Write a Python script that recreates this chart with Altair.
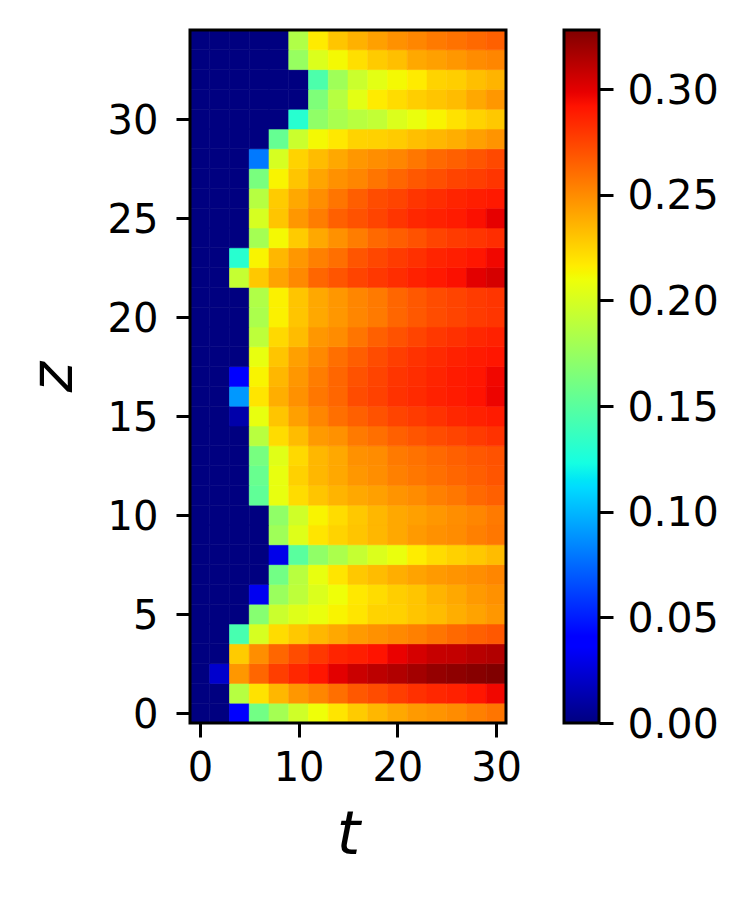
import altair as alt
import numpy as np
import pandas as pd

times = list(range(0, 31, 2))
VMAX = 0.328

z34 = [0,0,0,0,0,.185,.217,.230,.237,.243,.248,.252,.256,.259,.262,.265]
z33 = [0,0,0,0,0,.175,.202,.212,.221,.228,.232,.240,.243,.246,.250,.252]
z32 = [0,0,0,0,0,0,.145,.178,.195,.205,.212,.217,.225,.227,.232,.236]
z31 = [0,0,0,0,0,0,.165,.187,.205,.217,.222,.227,.230,.233,.240,.246]
z30 = [0,0,0,0,0,.130,.172,.182,.188,.192,.202,.208,.214,.220,.225,.229]
z29 = [0,0,0,0,.155,.195,.212,.218,.225,.226,.228,.232,.235,.238,.243,.247]
z28 = [0,0,0,.080,.200,.225,.233,.240,.246,.249,.252,.257,.262,.265,.269,.273]
z27 = [0,0,0,.163,.214,.230,.241,.248,.252,.258,.263,.268,.271,.275,.277,.280]
z26 = [0,0,0,.187,.228,.240,.249,.258,.266,.272,.275,.280,.283,.286,.288,.290]
z25 = [0,0,0,.200,.230,.246,.255,.265,.270,.275,.280,.285,.287,.289,.293,.299]
z24 = [0,0,0,.180,.212,.228,.240,.248,.255,.262,.266,.270,.275,.278,.280,.283]
z23 = [0,0,.130,.214,.235,.246,.254,.260,.269,.274,.278,.282,.286,.288,.291,.296]
z22 = [0,0,.193,.229,.242,.251,.263,.269,.275,.279,.283,.287,.290,.293,.300,.304]
z21 = [0,0,0,.185,.215,.230,.240,.246,.252,.256,.263,.268,.272,.275,.278,.280]
z20 = [0,0,0,.183,.215,.230,.240,.246,.252,.256,.263,.268,.272,.275,.278,.280]
z19 = [0,0,0,.190,.223,.233,.246,.250,.258,.265,.270,.275,.279,.282,.285,.287]
z18 = [0,0,0,.207,.230,.243,.251,.260,.266,.272,.277,.281,.284,.287,.289,.291]
z17 = [0,0,.037,.214,.235,.246,.255,.263,.270,.275,.280,.283,.286,.289,.291,.296]
z16 = [0,0,.090,.219,.238,.248,.257,.263,.272,.276,.281,.284,.287,.289,.292,.297]
z15 = [0,0,.012,.207,.230,.243,.252,.260,.265,.270,.275,.278,.281,.285,.287,.289]
z14 = [0,0,0,.188,.222,.233,.245,.248,.256,.260,.265,.269,.272,.275,.278,.281]
z13 = [0,0,0,.162,.204,.223,.235,.240,.248,.250,.256,.259,.262,.265,.268,.270]
z12 = [0,0,0,.156,.207,.226,.235,.240,.246,.249,.254,.257,.260,.263,.266,.269]
z11 = [0,0,0,.153,.207,.222,.230,.236,.240,.243,.247,.250,.254,.257,.262,.265]
z10 = [0,0,0,0,.172,.197,.214,.222,.229,.235,.240,.243,.246,.249,.252,.256]
z9 = [0,0,0,0,.178,.203,.219,.225,.230,.235,.240,.245,.248,.250,.254,.257]
z8 = [0,0,0,0,.030,.150,.172,.183,.193,.202,.208,.216,.222,.226,.229,.233]
z7 = [0,0,0,0,.160,.188,.207,.219,.229,.233,.238,.242,.245,.247,.249,.252]
z6 = [0,0,0,.032,.176,.190,.202,.210,.218,.222,.227,.230,.236,.240,.245,.248]
z5 = [0,0,0,.168,.195,.203,.208,.214,.219,.225,.226,.230,.233,.238,.242,.246]
z4 = [0,0,.143,.200,.222,.229,.235,.240,.245,.248,.251,.254,.258,.262,.265,.268]
z3 = [0,0,.228,.249,.263,.272,.279,.286,.288,.292,.298,.304,.308,.309,.312,.314]
z2 = [0,.022,.246,.263,.277,.285,.291,.300,.307,.311,.314,.318,.322,.324,.326,.328]
z1 = [0,0,.187,.220,.235,.246,.252,.260,.268,.272,.277,.282,.285,.287,.291,.296]
z0 = [0,0,.037,.160,.180,.197,.210,.219,.228,.235,.240,.245,.247,.250,.254,.258]

rows = [z0, z1, z2, z3, z4, z5, z6, z7, z8, z9, z10, z11, z12, z13, z14, z15, z16, z17,
        z18, z19, z20, z21, z22, z23, z24, z25, z26, z27, z28, z29, z30, z31, z32, z33, z34]

records = []
for z, row in enumerate(rows):
    for t, v in zip(times, row):
        records.append({"t0": t - 1, "t1": t + 1, "z0": z - 0.5, "z1": z + 0.5, "v": v})
df = pd.DataFrame(records)

# matplotlib's jet colormap, as its published breakpoints
jet_r = ([0, .35, .66, .89, 1], [0, 0, 1, 1, .5])
jet_g = ([0, .125, .375, .64, .91, 1], [0, 0, 1, 1, 0, 0])
jet_b = ([0, .11, .34, .65, 1], [.5, 1, 1, 0, 0])
jet_pos = sorted(set(jet_r[0] + jet_g[0] + jet_b[0]))
def jet_hex_at(p):
    return "#%02x%02x%02x" % tuple(int(round(255 * float(np.interp(p, *c)))) for c in (jet_r, jet_g, jet_b))
jet_hex = [jet_hex_at(p) for p in jet_pos]
color_scale = alt.Scale(domain=[p * VMAX for p in jet_pos], range=jet_hex, clamp=True, interpolate="rgb")

FONT = "DejaVu Sans"
axis_common = dict(
    labelFont=FONT, labelColor="black", grid=False, domain=False,
    tickColor="black", tickWidth=3, tickSize=14,
    titleFont=FONT, titleColor="black", titleFontStyle="italic", titleFontWeight="normal",
)

heat = alt.Chart(df).mark_rect(strokeWidth=0.6).encode(
    x=alt.X("t0:Q", scale=alt.Scale(domain=[-1, 31], nice=False, zero=False),
            axis=alt.Axis(values=[0, 10, 20, 30], title="t", titleFontSize=60, labelPadding=11, labelFontSize=40,
                          titlePadding=18, labelFlush=False, **axis_common)),
    x2="t1:Q",
    y=alt.Y("z0:Q", scale=alt.Scale(domain=[-0.5, 34.5], nice=False, zero=False),
            axis=alt.Axis(values=[0, 5, 10, 15, 20, 25, 30], title="z", titleFontSize=58, labelPadding=18, labelFontSize=40,
                          labelOffset=2, titlePadding=24, labelFlush=False, **axis_common)),
    y2="z1:Q",
    color=alt.Color("v:Q", scale=color_scale, legend=None),
    stroke=alt.Stroke("v:Q", scale=color_scale, legend=None),
)
frame_df = pd.DataFrame({"t0": [-1], "t1": [31], "z0": [-0.5], "z1": [34.5]})
heat_frame = alt.Chart(frame_df).mark_rect(fillOpacity=0, stroke="black", strokeWidth=3).encode(
    x="t0:Q", x2="t1:Q", y="z0:Q", y2="z1:Q")
heat_panel = alt.layer(heat, heat_frame).properties(width=316, height=693)

bar_df = pd.DataFrame({"a": [0.0], "b": [VMAX], "l": [0], "r": [1]})
gradient = alt.Gradient(
    gradient="linear", x1=0, x2=0, y1=1, y2=0,
    stops=[alt.GradientStop(offset=p, color=c) for p, c in zip(jet_pos, jet_hex)],
)
cbar = alt.Chart(bar_df).mark_rect(fill=gradient, stroke="black", strokeWidth=3).encode(
    x=alt.X("l:Q", scale=alt.Scale(domain=[0, 1]), axis=None),
    x2="r:Q",
    y=alt.Y("a:Q", scale=alt.Scale(domain=[0, VMAX], nice=False, zero=False),
            axis=alt.Axis(orient="right", values=[0, .05, .10, .15, .20, .25, .30], labelPadding=14, labelFontSize=41,
                          labelOffset=2, format=".2f", title=None, labelFlush=False, **axis_common)),
    y2="b:Q",
).properties(width=35, height=693)

chart = alt.hconcat(heat_panel, cbar, spacing=40).configure_view(
    stroke=None
).properties(padding={"left": 17, "top": 20, "right": 0, "bottom": 20}, background="white")

chart.save("out.html", embed_options={"renderer": "svg", "actions": False})
